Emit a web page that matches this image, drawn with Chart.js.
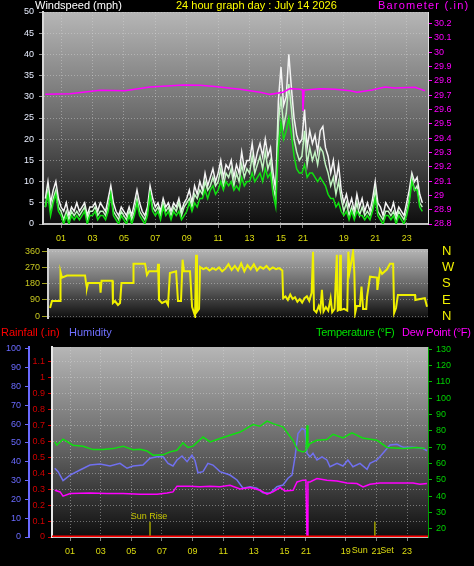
<!DOCTYPE html>
<html>
<head>
<meta charset="utf-8">
<script src="https://cdn.jsdelivr.net/npm/chart.js@4.4.1/dist/chart.umd.min.js"></script>
<style>
body { margin: 0; background: #000; width: 474px; height: 566px; overflow: hidden; position: relative; font-family: "Liberation Sans", Arial, sans-serif; }
canvas { position: absolute; left: 0; }
.titulo { position: absolute; font-size: 11px; line-height: 12px; white-space: nowrap; z-index: 5; }
</style>
</head>
<body>

<canvas id="chart_vento" width="474" height="248" style="top:0"></canvas>
<canvas id="chart_direcao" width="474" height="85" style="top:241px"></canvas>
<canvas id="chart_clima" width="474" height="242" style="top:324px"></canvas>

<div class="titulo" style="left:35px;top:-1px;color:#ffffff">Windspeed (mph)</div>
<div class="titulo" style="left:176px;top:-1px;color:#ffff00">24 hour graph day : July 14 2026</div>
<div class="titulo" style="left:378px;top:-1px;color:#ff00ff;letter-spacing:1.2px">Barometer (.in)</div>
<div class="titulo" style="left:1px;top:326px;color:#ff0000">Rainfall (.in)</div>
<div class="titulo" style="left:69px;top:326px;color:#7070ff">Humidity</div>
<div class="titulo" style="left:316px;top:326px;color:#00e000;letter-spacing:-0.3px">Temperature (°F)</div>
<div class="titulo" style="left:402px;top:326px;color:#ff00ff;letter-spacing:-0.2px">Dew Point (°F)</div>

<script>
// eixo do tempo (horas)
const horasTicks = [1, 3, 5, 7, 9, 11, 13, 15, 16.4, 19, 21, 23];
const nomesTicks = ['01', '03', '05', '07', '09', '11', '13', '15', '21', '19', '21', '23'];

// vento (mph), uma amostra a cada 10 minutos (6 por hora)
const passoVento = 1 / 6;
const rajada = [
    6, 10, 5, 8, 10, 6,   4, 3, 5, 2, 4, 3,   5, 3, 4, 5, 2, 4,   4, 5, 3, 5, 4, 3,
    6, 9, 5, 3, 2, 4,     3, 2, 4, 2, 5, 8,   5, 3, 2, 4, 9, 6,   4, 5, 3, 6, 4, 5,
    3, 5, 4, 6, 3, 5,     6, 8, 5, 9, 7, 10,  8, 12, 9, 11, 13, 10,  12, 15, 11, 14, 13, 15,
    11, 14, 12, 17, 13, 15,  15, 19, 14, 17, 19, 16,  20, 16, 18, 12, 8, 29,  37, 28, 30, 40, 32, 25,
    21, 19, 20, 27, 18, 22,  19, 21, 17, 22, 23, 18,  16, 12, 15, 10, 14, 8,  5, 7, 4, 6, 3, 7,
    4, 6, 3, 5, 3, 6,     10, 5, 4, 2, 5, 4,  3, 5, 2, 4, 3, 2,   5, 8, 12, 10, 11, 7,
    5];
const velocidade = [
    4, 8, 3, 6, 8, 4,     3, 1, 3, 1, 3, 2,   3, 2, 3, 4, 1, 3,   3, 4, 2, 3, 3, 2,
    4, 7, 3, 2, 1, 3,     2, 1, 3, 1, 3, 6,   3, 2, 1, 3, 7, 4,   3, 4, 2, 5, 3, 4,
    2, 4, 3, 5, 2, 4,     5, 6, 4, 7, 6, 8,   7, 10, 8, 9, 11, 9,  10, 13, 9, 12, 11, 13,
    9, 12, 10, 14, 11, 13,  12, 16, 12, 14, 16, 13,  17, 13, 15, 9, 6, 24,  30, 23, 26, 33, 27, 20,
    17, 15, 16, 22, 14, 18,  15, 17, 14, 18, 17, 14,  12, 9, 11, 7, 10, 6,  3, 5, 2, 4, 2, 5,
    2, 4, 2, 3, 2, 4,     8, 3, 2, 1, 3, 3,   2, 3, 1, 3, 2, 1,   3, 6, 11, 8, 9, 5,
    4];
const media = [
    4, 7, 2, 5, 7, 3,     2, 0, 2, 0, 2, 1,   2, 1, 2, 3, 0, 2,   2, 3, 1, 2, 2, 1,
    3, 7, 2, 1, 0, 2,     1, 0, 2, 0, 2, 5,   2, 1, 0, 2, 7, 3,   2, 3, 1, 4, 2, 3,
    1, 3, 2, 3, 1, 2,     3, 5, 3, 5, 4, 6,   6, 8, 6, 8, 9, 7,   8, 10, 8, 10, 9, 10,
    8, 9, 8, 11, 9, 10,   10, 12, 10, 11, 12, 10,  13, 11, 12, 7, 4, 18,  24, 20, 22, 25, 21, 16,
    13, 12, 12, 14, 11, 12,  12, 11, 10, 11, 10, 9,  7, 6, 6, 4, 5, 3,  2, 3, 1, 3, 1, 3,
    2, 2, 1, 2, 1, 3,     6, 2, 1, 0, 2, 2,   1, 2, 0, 2, 1, 0,   2, 5, 10, 8, 8, 4,
    3];

// barometro (in)
const horasBarometro = [0, 1.57, 3.48, 5.07, 6.66, 8.77, 9.85, 10.8, 12.39, 13.67, 14.3, 15.13, 15.58, 16.21, 16.37, 16.4, 16.47, 17.49, 18.44, 19.4, 19.84, 20.8, 21.62, 22.25, 23.53, 24.17];
const barometro = [29.705, 29.71, 29.733, 29.73, 29.757, 29.77, 29.768, 29.76, 29.74, 29.72, 29.705, 29.72, 29.745, 29.74, 29.735, 29.59, 29.735, 29.745, 29.74, 29.73, 29.72, 29.735, 29.757, 29.75, 29.755, 29.73];
const ticksBarometro = [28.8, 28.9, 29, 29.1, 29.2, 29.3, 29.4, 29.5, 29.6, 29.7, 29.8, 29.9, 30, 30.1, 30.2];

// direcao do vento (graus)
const horasDirecao = [0.13, 0.25, 0.76, 0.79, 0.88, 1.2, 2.34, 2.4, 2.46, 2.53, 3.28, 3.32, 3.38, 4.07, 4.1, 4.23, 4.42, 4.55, 4.64, 5.37,
    5.4, 6.13, 6.25, 6.38, 6.92, 6.95, 7.01, 7.2, 7.45, 7.58, 7.7, 8.09, 8.21, 8.4, 8.5, 8.59, 8.97, 9.1, 9.29, 9.35,
    9.41, 9.54, 9.6, 9.8, 10.0, 10.2, 10.4, 10.6, 10.8, 11.0, 11.2, 11.4, 11.6, 11.8, 12.0, 12.2, 12.4, 12.6, 12.8, 13.0,
    13.2, 13.4, 13.6, 13.8, 14.0, 14.2, 14.4, 14.6, 14.8, 14.85, 15.0, 15.15, 15.3, 15.45, 15.6, 15.75, 15.9, 16.05, 16.2, 16.35,
    16.5, 16.65, 16.74, 16.8, 16.95, 17.1, 17.2, 17.3, 17.4, 17.55, 17.7, 17.85, 17.95, 18.1, 18.24, 18.3, 18.4, 18.45, 18.5, 18.7,
    18.9, 18.97, 19.05, 19.15, 19.27, 19.35, 19.4, 19.5, 19.7, 19.8, 19.9, 20.1, 20.15, 20.34, 20.78, 20.8, 20.97, 21.1, 21.4, 21.6,
    21.8, 21.86, 21.98, 22.1, 23.18, 23.2, 23.5, 23.8, 23.94];
const direcao = [45, 84, 84, 247, 215, 227, 227, 185, 157, 185, 185, 131, 197, 197, 73, 84, 62, 73, 185, 185,
    292, 292, 230, 250, 250, 292, 90, 73, 84, 62, 240, 250, 84, 84, 315, 250, 250, 52, 0, 343,
    24, 40, 275, 262, 270, 255, 268, 258, 272, 250, 265, 290, 258, 280, 255, 295, 250, 285, 262, 290,
    255, 275, 265, 280, 260, 272, 262, 268, 255, 100, 110, 90, 120, 95, 105, 80, 95, 75, 100, 110,
    85, 130, 360, 34, 20, 56, 30, 146, 25, 50, 30, 100, 22, 40, 343, 30, 35, 343, 34, 40,
    30, 360, 250, 300, 360, 240, 17, 56, 56, 165, 40, 40, 107, 220, 215, 146, 259, 236, 260, 292,
    292, 17, 45, 118, 118, 90, 95, 100, 52];
const ticksDirecao = [0, 90, 180, 270, 360];
const pontosCardeais = ['N', 'E', 'S', 'W', 'N'];

// temperatura (F)
const horasTemp = [0, 0.13, 0.54, 1.19, 1.85, 2.5, 3.15, 3.8, 4.46, 5.1, 5.57, 6.02, 6.42, 7.07, 7.53, 7.98, 8.37, 8.7, 9.03, 9.68,
    10.14, 10.79, 11.44, 12.1, 12.3, 12.94, 13.4, 13.86, 14.25, 14.9, 15.55, 15.88, 16.2, 16.4, 16.47, 16.53, 16.66, 17.1, 17.77, 18.17,
    18.82, 19.4, 20.1, 21.04, 21.7, 22.75, 23.65, 24.17];
const temperatura = [73.3, 71.3, 75, 71.3, 70.7, 68.6, 68.6, 69.2, 70.7, 68.5, 68.8, 67.8, 65.2, 65.4, 67.2, 68.2, 72.7, 69.9, 70.7, 76.3,
    73.3, 75.4, 77.4, 79.4, 80.4, 83.9, 82.9, 86, 84.5, 82.5, 74.3, 68.2, 67.2, 68, 83.5, 70, 72.3, 74.3, 74.8, 78,
    75.7, 78.8, 75.7, 74.3, 69.9, 69.3, 69.9, 69.3];

// umidade (%)
const horasUmidade = [0, 0.22, 0.54, 1.0, 1.65, 2.3, 2.96, 3.61, 4.26, 4.72, 5.11, 5.76, 6.22, 6.68, 7.07, 7.4, 7.72, 7.98, 8.31, 8.64,
    8.96, 9.16, 9.35, 9.68, 10.0, 10.33, 10.79, 11.44, 11.9, 12.29, 12.75, 13.2, 13.6, 14.05, 14.51, 14.9, 15.23, 15.49, 15.69, 15.88,
    16.14, 16.34, 16.47, 16.66, 16.86, 17.12, 17.45, 17.77, 17.97, 18.43, 18.82, 19.14, 19.47, 19.93, 20.39, 20.58, 21.04, 21.43, 21.89, 22.34,
    22.75, 23.39, 24.04, 24.3];
const umidade = [36.5, 34.7, 29.9, 32.9, 35.6, 38.2, 38.8, 37.7, 39.1, 36.5, 37.7, 38.2, 41.8, 42.6, 42.6, 39.1, 37.7, 40.9, 43, 40,
    43.5, 40.5, 34.1, 34.7, 39.1, 38.2, 34.7, 32.9, 30.3, 25.9, 26.7, 25.9, 23.5, 23.2, 26.7, 27.6, 31.2, 32.9, 42.6, 55,
    57.7, 56.8, 44.5, 42.6, 44.5, 40.9, 42.6, 40.9, 37.3, 39.1, 37.7, 40.9, 37.3, 39.1, 36, 39.1, 40.9, 44.5, 48.9, 49.2,
    47.6, 47.6, 47.1, 45.8];
const ticksUmidade = [0, 10, 20, 30, 40, 50, 60, 70, 80, 90, 100];

// ponto de orvalho (F)
const horasOrvalho = [0, 0.35, 0.54, 1.0, 2.3, 3.41, 4.46, 5.57, 6.68, 7.33, 7.72, 7.98, 8.83, 9.48, 10.14, 10.79, 11.44, 12.1, 12.75, 13.4,
    13.86, 14.25, 14.71, 15.03, 15.56, 15.82, 16.2, 16.4, 16.47, 16.53, 16.66, 17.12, 17.77, 18.43, 19.08, 19.73, 20.13, 20.58, 21.23, 22.34,
    23.39, 23.84, 24.3];
const orvalho = [43.7, 42.7, 40.1, 41.7, 42.1, 41.7, 41.7, 41.3, 41.3, 42.1, 42.7, 46.2, 46.2, 45.8, 46.2, 45.8, 46.8, 44.5, 45.4, 43.7,
    41.3, 42.7, 45.4, 43.3, 43.7, 48.8, 49.9, 49.9, 15, 48.8, 48.8, 50.9, 49.9, 49.4, 48.2, 47.8, 45.8, 47.4, 48.2, 48.2,
    48.2, 47.4, 47.8];
const ticksTemp = [20, 30, 40, 50, 60, 70, 80, 90, 100, 110, 120, 130];

// chuva (in)
const horasChuva = [-0.2, 24.4];
const chuva = [0, 0];
const ticksChuva = [0, 0.1, 0.2, 0.3, 0.4, 0.5, 0.6, 0.7, 0.8, 0.9, 1, 1.1];

// nascer e por do sol (horas)
const nascerSol = 6.22;
const porSol = 20.9;


Chart.defaults.font.family = '"Liberation Sans", Arial, sans-serif';
Chart.defaults.font.size = 9;

const corGrade = 'rgba(215,215,215,0.45)';

function pontos(xs, ys) {
    return xs.map((x, i) => ({ x: x, y: ys[i] }));
}

function pontosVento(lista) {
    return lista.map((v, i) => ({ x: i * passoVento, y: v }));
}

function ticksFixos(lista) {
    return function (scale) {
        scale.ticks = lista.map(v => ({ value: v }));
    };
}

function larguraFixa(w) {
    return function (scale) { scale.width = w; };
}

function alturaFixa(h) {
    return function (scale) { scale.height = h; };
}

// fundo cinza degradê dentro da area do grafico
const fundoGradiente = {
    id: 'fundoGradiente',
    beforeDraw(chart) {
        const ctx = chart.ctx;
        const a = chart.chartArea;
        const g = ctx.createLinearGradient(0, a.top, 0, a.bottom);
        g.addColorStop(0, '#b6b6b6');
        g.addColorStop(0.5, '#6a6a6a');
        g.addColorStop(1, '#0e0e0e');
        ctx.save();
        ctx.fillStyle = g;
        ctx.fillRect(a.left, a.top, a.right - a.left, a.bottom - a.top);
        ctx.restore();
    }
};

const opcoesBase = {
    responsive: false,
    animation: false,
    devicePixelRatio: 1,
    elements: { point: { radius: 0 }, line: { borderWidth: 1.5, tension: 0 } },
    plugins: { legend: { display: false }, tooltip: { enabled: false } }
};

function eixoHoras(min, max, altura) {
    return {
        type: 'linear',
        min: min,
        max: max,
        afterBuildTicks: ticksFixos(horasTicks),
        afterFit: alturaFixa(altura),
        ticks: { color: '#dcdc10', padding: 5, maxRotation: 0, autoSkip: false, callback: (v, i) => nomesTicks[i] },
        grid: { color: corGrade, tickLength: 4, tickColor: '#808080' },
        border: { color: '#c0c0c0', width: 2, dash: [1, 2] }
    };
}


// GRAFICO VENTO + BAROMETRO
new Chart(document.getElementById('chart_vento'), {
    type: 'line',
    data: {
        datasets: [
            { data: pontos(horasBarometro, barometro), borderColor: '#ff00ff', yAxisID: 'y1' },
            { data: pontosVento(media), borderColor: '#10e010', yAxisID: 'y' },
            { data: pontosVento(velocidade), borderColor: '#c0f4c0', yAxisID: 'y' },
            { data: pontosVento(rajada), borderColor: '#f4f4f4', yAxisID: 'y' }
        ]
    },
    options: Object.assign({}, opcoesBase, {
        layout: { padding: { top: 12 } },
        scales: {
            x: eixoHoras(-0.15, 24.36, 24),
            y: {
                position: 'left',
                min: 0,
                max: 50,
                afterFit: larguraFixa(43),
                ticks: { stepSize: 5, color: '#e8eeff', padding: 5, autoSkip: false },
                grid: { color: corGrade, tickLength: 4, tickColor: '#909090' },
                border: { color: '#d8d8d8', width: 2, dash: [1, 2] }
            },
            y1: {
                position: 'right',
                min: 28.8,
                max: 30.28,
                afterBuildTicks: ticksFixos(ticksBarometro),
                afterFit: larguraFixa(46),
                ticks: { color: '#ff00ff', padding: 2, autoSkip: false, callback: v => String(+v.toFixed(1)) },
                grid: { drawOnChartArea: false, tickLength: 4, tickColor: '#ff00ff' },
                border: { color: '#e0e0e0', width: 1 }
            }
        }
    }),
    plugins: [fundoGradiente]
});


// GRAFICO DIRECAO
new Chart(document.getElementById('chart_direcao'), {
    type: 'line',
    data: {
        datasets: [
            { data: pontos(horasDirecao, direcao), borderColor: '#f0f000', borderWidth: 2, yAxisID: 'y' }
        ]
    },
    options: Object.assign({}, opcoesBase, {
        layout: { padding: { top: 8, bottom: 8 } },
        scales: {
            x: { type: 'linear', min: 0, max: 24, display: false },
            y: {
                position: 'left',
                min: -11,
                max: 375,
                afterBuildTicks: ticksFixos(ticksDirecao),
                afterFit: larguraFixa(48),
                ticks: { color: '#c8c820', padding: 2, autoSkip: false },
                grid: { color: corGrade, tickLength: 6, tickColor: '#a0a020' },
                border: { color: '#d0d0d0', width: 2, dash: [1, 2] }
            },
            y1: {
                position: 'right',
                min: -11,
                max: 375,
                afterBuildTicks: ticksFixos(ticksDirecao),
                afterFit: larguraFixa(46),
                ticks: { color: '#f0f000', font: { size: 13 }, padding: 0, autoSkip: false, callback: (v, i) => pontosCardeais[i] },
                grid: { drawOnChartArea: false, tickLength: 14, tickColor: 'rgba(0,0,0,0)' },
                border: { display: false }
            }
        }
    }),
    plugins: [fundoGradiente]
});


// textos do nascer e por do sol
const textosSol = {
    id: 'textosSol',
    afterDatasetsDraw(chart) {
        const ctx = chart.ctx;
        const x = chart.scales.x;
        const r = chart.scales.chuva;
        ctx.save();
        ctx.font = '9px "Liberation Sans", Arial, sans-serif';
        ctx.fillStyle = '#c8c800';
        ctx.textAlign = 'center';
        ctx.textBaseline = 'bottom';
        ctx.fillText('Sun Rise', x.getPixelForValue(nascerSol) - 1, r.getPixelForValue(0.095) - 1);
        ctx.textBaseline = 'middle';
        ctx.fillStyle = '#dcdc10';
        ctx.fillText('Sun     Set', x.getPixelForValue(porSol) - 2, x.top + 14);
        ctx.restore();
    }
};

// GRAFICO CLIMA
new Chart(document.getElementById('chart_clima'), {
    type: 'line',
    data: {
        datasets: [
            { data: pontos(horasChuva, chuva), borderColor: '#ff0000', borderWidth: 3, yAxisID: 'chuva' },
            { data: pontos(horasOrvalho, orvalho), borderColor: '#ff00ff', yAxisID: 'temp' },
            { data: pontos(horasTemp, temperatura), borderColor: '#10e010', yAxisID: 'temp' },
            { data: pontos(horasUmidade, umidade), borderColor: '#7070f0', yAxisID: 'umid' },
            { data: pontos([nascerSol, nascerSol], [0, 0.095]), borderColor: '#a0a000', yAxisID: 'chuva' },
            { data: pontos([porSol, porSol], [0, 0.095]), borderColor: '#a0a000', yAxisID: 'chuva' }
        ]
    },
    options: Object.assign({}, opcoesBase, {
        layout: { padding: { top: 23 } },
        scales: {
            x: eixoHoras(-0.18, 24.37, 29),
            umid: {
                position: 'left',
                weight: 2,
                min: 0,
                max: 100.9,
                afterBuildTicks: ticksFixos(ticksUmidade),
                afterFit: larguraFixa(29),
                ticks: { color: '#6a6aff', padding: 4, autoSkip: false },
                grid: { drawOnChartArea: false, tickLength: 4, tickColor: '#6a6aff' },
                border: { color: '#6a6aff', width: 2 }
            },
            chuva: {
                position: 'left',
                weight: 1,
                min: 0,
                max: 1.19,
                afterBuildTicks: ticksFixos(ticksChuva),
                afterFit: larguraFixa(23),
                ticks: { color: '#d00000', padding: 3, autoSkip: false, callback: v => String(+v.toFixed(1)) },
                grid: { color: corGrade, tickLength: 4, tickColor: '#d00000' },
                border: { color: '#e8e8e8', width: 2, dash: [1, 2] }
            },
            temp: {
                position: 'right',
                min: 15.1,
                max: 131.4,
                afterBuildTicks: ticksFixos(ticksTemp),
                afterFit: larguraFixa(46),
                ticks: { color: '#00d000', padding: 4, autoSkip: false },
                grid: { drawOnChartArea: false, tickLength: 4, tickColor: '#00c000' },
                border: { color: '#00a000', width: 1 }
            }
        }
    }),
    plugins: [fundoGradiente, textosSol]
});
</script>
</body>
</html>
